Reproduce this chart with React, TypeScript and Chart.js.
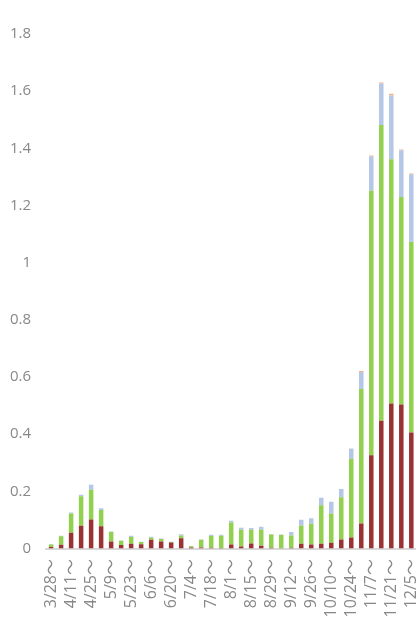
import React, { useEffect, useRef } from "react";
import { Chart, registerables } from "chart.js";

Chart.register(...registerables);

const weeks = [
  "3/28", "4/4", "4/11", "4/18", "4/25", "5/2", "5/9", "5/16", "5/23", "5/30",
  "6/6", "6/13", "6/20", "6/27", "7/4", "7/11", "7/18", "7/25", "8/1", "8/8",
  "8/15", "8/22", "8/29", "9/5", "9/12", "9/19", "9/26", "10/3", "10/10", "10/17",
  "10/24", "10/31", "11/7", "11/14", "11/21", "11/28", "12/5",
];

const redValues = [
  0.005, 0.013, 0.055, 0.08, 0.102, 0.078, 0.025, 0.012, 0.017, 0.015,
  0.031, 0.025, 0.021, 0.036, 0.004, 0.004, 0.003, 0.002, 0.014, 0.007,
  0.018, 0.01, 0.003, 0.001, 0.003, 0.017, 0.014, 0.017, 0.02, 0.032,
  0.039, 0.088, 0.326, 0.447, 0.507, 0.504, 0.406,
];

const greenValues = [
  0.009, 0.03, 0.068, 0.103, 0.104, 0.057, 0.033, 0.015, 0.023, 0.008,
  0.007, 0.008, 0.002, 0.01, 0.004, 0.027, 0.041, 0.043, 0.077, 0.059,
  0.048, 0.056, 0.046, 0.046, 0.043, 0.064, 0.073, 0.134, 0.103, 0.147,
  0.274, 0.47, 0.926, 1.035, 0.855, 0.726, 0.667,
];

const blueValues = [
  0.002, 0.002, 0.003, 0.005, 0.017, 0.006, 0.002, 0.001, 0.005, 0.001,
  0.003, 0.002, 0.001, 0.004, 0.001, 0.001, 0.004, 0.003, 0.006, 0.007,
  0.006, 0.01, 0.002, 0.002, 0.012, 0.02, 0.019, 0.027, 0.041, 0.029,
  0.036, 0.06, 0.12, 0.145, 0.223, 0.163, 0.236,
];

const orangeValues = [
  0, 0, 0, 0, 0, 0, 0, 0, 0, 0,
  0, 0, 0, 0, 0, 0, 0, 0, 0, 0,
  0, 0, 0, 0, 0, 0, 0, 0, 0, 0,
  0.001, 0.003, 0.003, 0.003, 0.006, 0.003, 0.003,
];

const yTicks = [0, 0.2, 0.4, 0.6, 0.8, 1, 1.2, 1.4, 1.6, 1.8];

const FONT = "'Open Sans', 'Noto Sans CJK JP', sans-serif";

export default function App() {
  const ref = useRef<HTMLCanvasElement | null>(null);

  useEffect(() => {
    if (!ref.current) return;
    const mk = (label: string, data: number[], color: string) => ({
      label,
      data,
      backgroundColor: color,
      borderWidth: 0,
      barPercentage: 0.45,
      categoryPercentage: 1,
    });
    const chart = new Chart(ref.current, {
      type: "bar",
      data: {
        labels: weeks.map((w) => w + "～"),
        datasets: [
          mk("red", redValues, "#9a3132"),
          mk("green", greenValues, "#92d050"),
          mk("blue", blueValues, "#b4c7e7"),
          mk("orange", orangeValues, "#f4b183"),
        ],
      },
      options: {
        animation: false,
        responsive: true,
        maintainAspectRatio: false,
        layout: { padding: { top: 34, right: 0, left: 3, bottom: 0 } },
        plugins: {
          legend: { display: false },
          tooltip: { enabled: false },
        },
        scales: {
          x: {
            stacked: true,
            grid: { display: false },
            border: { display: true, color: "#d9d9d9", width: 2 },
            ticks: {
              autoSkip: false,
              maxRotation: 90,
              minRotation: 90,
              color: "#888888",
              font: { family: FONT, size: 16 },
              padding: 2.5,
              callback: (_v: any, i: number) => (i % 2 === 0 ? weeks[i] + "～" : ""),
            },
          },
          y: {
            stacked: true,
            min: 0,
            max: 1.8,
            grid: { display: false },
            border: { display: false },
            afterBuildTicks: (axis: any) => {
              axis.ticks = yTicks.map((v) => ({ value: v }));
            },
            ticks: {
              color: "#888888",
              font: { family: FONT, size: 15 },
              padding: 7,
              callback: (v: any) => String(Number(Number(v).toFixed(1))),
            },
          },
        },
      },
    });
    return () => chart.destroy();
  }, []);

  return (
    <div style={{ position: "absolute", left: 0, top: 0, width: 416, height: 620, overflow: "hidden", background: "#fff" }}>
      <div style={{ position: "absolute", left: 0, top: 0, width: 433, height: 620 }}>
        <canvas ref={ref} />
      </div>
    </div>
  );
}
